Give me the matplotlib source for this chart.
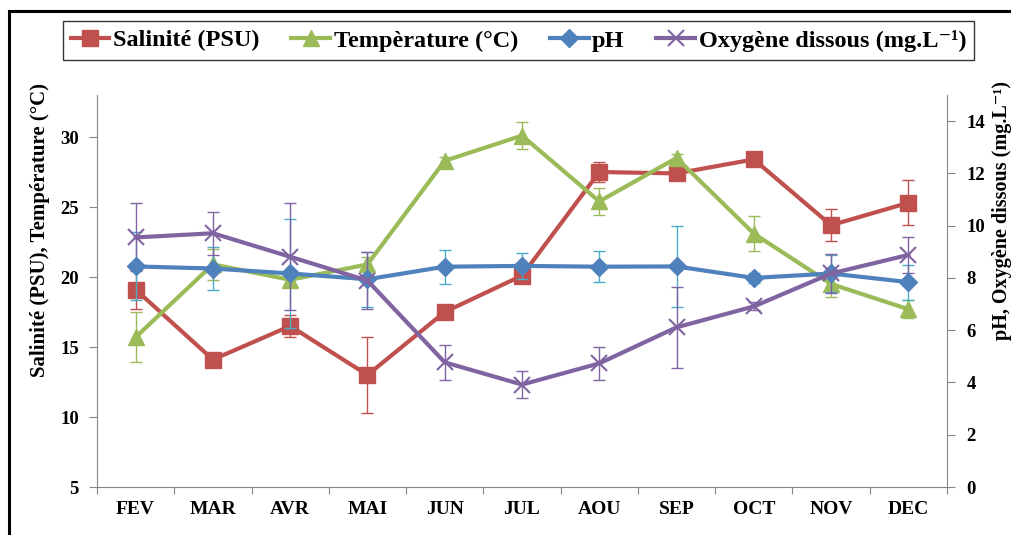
import numpy as np
import matplotlib
matplotlib.use("Agg")
import matplotlib.pyplot as plt
from matplotlib.patches import Rectangle

months = ['FEV', 'MAR', 'AVR', 'MAI', 'JUN', 'JUL', 'AOU', 'SEP', 'OCT', 'NOV', 'DEC']
salinity = [19.1, 14.1, 16.5, 13.0, 17.5, 20.1, 27.5, 27.4, 28.4, 23.7, 25.3]
salinity_err = [1.4, 0.3, 0.8, 2.7, 0.3, 0.3, 0.7, 0.3, 0.3, 1.15, 1.6]
temperature = [15.7, 20.9, 19.8, 20.9, 28.3, 30.1, 25.4, 28.5, 23.1, 19.5, 17.7]
temperature_err = [1.8, 1.1, 0.5, 0.5, 0.3, 0.95, 0.95, 0.3, 1.25, 0.9, 0.65]
ph = [8.44, 8.36, 8.17, 7.95, 8.43, 8.46, 8.43, 8.44, 8.0, 8.17, 7.84]
ph_err = [1.3, 0.83, 2.07, 1.05, 0.65, 0.5, 0.6, 1.55, 0.2, 0.7, 0.67]
oxygen = [9.55, 9.71, 8.81, 7.9, 4.77, 3.92, 4.73, 6.11, 6.91, 8.17, 8.88]
oxygen_err = [1.3, 0.83, 2.05, 1.1, 0.68, 0.5, 0.63, 1.55, 0.15, 0.73, 0.68]

left_ticks = [5, 10, 15, 20, 25, 30]
right_ticks = [0, 2, 4, 6, 8, 10, 12, 14]

labels = ['Salinité (PSU)', 'Tempèrature (°C)', 'pH', 'Oxygène dissous (mg.L⁻¹)']

plt.rcParams['font.family'] = ['Liberation Serif', 'DejaVu Serif']
plt.rcParams['font.weight'] = 'bold'

RED, GREEN, BLUE, PURPLE, CYAN = '#C0504D', '#9BBB59', '#4F81BD', '#8064A2', '#4BACC6'
GRAY = '#868686'

fig = plt.figure(figsize=(10.11, 5.35), dpi=100)
ax = fig.add_axes([97/1011, 1-487/535, 850/1011, 392/535])
ax2 = ax.twinx()

x = np.arange(len(months))

ax.errorbar(x, salinity, yerr=salinity_err, fmt='none', ecolor=RED, elinewidth=1, capsize=4, capthick=1, zorder=1)
ax.errorbar(x, temperature, yerr=temperature_err, fmt='none', ecolor=GREEN, elinewidth=1, capsize=4, capthick=1, zorder=1)
l1, = ax.plot(x, salinity, color=RED, lw=3, marker='s', ms=11, label=labels[0], zorder=3)
l2, = ax.plot(x, temperature, color=GREEN, lw=3, marker='^', ms=12, label=labels[1], zorder=3)

ax2.errorbar(x, ph, yerr=ph_err, fmt='none', ecolor=CYAN, elinewidth=1, capsize=4, capthick=1, zorder=1)
ax2.errorbar(x, oxygen, yerr=oxygen_err, fmt='none', ecolor=PURPLE, elinewidth=1, capsize=4, capthick=1, zorder=1)
l3, = ax2.plot(x, ph, color=BLUE, lw=3, marker='D', ms=9, label=labels[2], zorder=3)
l4, = ax2.plot(x, oxygen, color=PURPLE, lw=3, marker='x', ms=12, mew=1.5, label=labels[3], zorder=3)

ax.set_xlim(-0.5, len(months) - 0.5)
ax.set_ylim(5, 33)
ax2.set_ylim(0, 15)
ax.set_yticks(left_ticks)
ax2.set_yticks(right_ticks)

ax.set_xticks(np.arange(-0.5, len(months), 1))
ax.set_xticklabels([])
ax.set_xticks(x, minor=True)
ax.set_xticklabels(months, minor=True)
ax.tick_params(axis='x', which='major', direction='out', length=5, color=GRAY)
ax.tick_params(axis='x', which='minor', length=0, pad=10, labelsize=14)
ax.tick_params(axis='y', direction='out', length=6, color=GRAY, pad=7, labelsize=13.5)
ax2.tick_params(axis='y', direction='out', length=6, color=GRAY, pad=8, labelsize=13.5)

for a in (ax, ax2):
    a.spines['top'].set_visible(False)
    for s in ['left', 'right', 'bottom']:
        a.spines[s].set_color(GRAY)
ax.spines['right'].set_visible(False)
ax2.spines['left'].set_visible(False)
ax2.spines['bottom'].set_visible(False)

fig.text(40/1011, 1-230/535, 'Salinité (PSU), Température (°C)', rotation=90,
         ha='center', va='center', fontsize=15, fontweight='bold')
fig.text(1002/1011, 1-210/535, 'pH, Oxygène dissous (mg.L⁻¹)', rotation=90,
         ha='center', va='center', fontsize=14.5, fontweight='bold')

leg = fig.legend(handles=[l1, l2, l3, l4], loc='center', bbox_to_anchor=(518.5/1011, 1-40.5/535),
                 ncol=4, frameon=True, fancybox=False, edgecolor='black', fontsize=17.5,
                 handlelength=1.6, handletextpad=0.15, columnspacing=1.3, borderpad=0.33)
leg.get_frame().set_linewidth(1)

fig.patches.append(Rectangle((8.5/1011, -0.2), 1.2, 1.2 - 11/535,
                             transform=fig.transFigure, fill=False, edgecolor='black', lw=2.2))

fig.savefig('out.png', dpi=100)
